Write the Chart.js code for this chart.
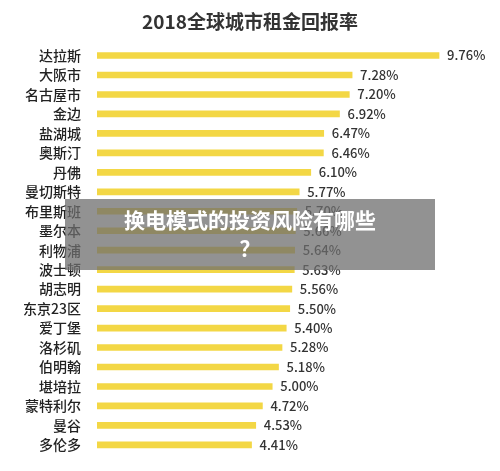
<!DOCTYPE html>
<html><head><meta charset="utf-8">
<script src="https://cdn.jsdelivr.net/npm/chart.js@4"></script>
<style>
body{margin:0;background:#fff;font-family:"Noto Sans CJK SC",sans-serif;}
#wrap{position:relative;width:500px;height:471px;}
#ov{position:absolute;left:65px;top:199px;width:370px;height:71px;background:rgba(110,110,110,0.75);color:#fff;font-weight:bold;font-size:21px;text-align:center;line-height:28px;padding-top:6px;box-sizing:border-box;}
</style></head><body>
<div id="wrap"><canvas id="c" width="500" height="471"></canvas>
<div id="ov">换电模式的投资风险有哪些<br>？</div></div>
<script>
const categories=["达拉斯","大阪市","名古屋市","金边","盐湖城","奥斯汀","丹佛","曼切斯特","布里斯班","墨尔本","利物浦","波士顿","胡志明","东京23区","爱丁堡","洛杉矶","伯明翰","堪培拉","蒙特利尔","曼谷","多伦多"];
const values=[9.76,7.28,7.20,6.92,6.47,6.46,6.10,5.77,5.70,5.66,5.64,5.63,5.56,5.50,5.40,5.28,5.18,5.00,4.72,4.53,4.41];
const title="2018全球城市租金回报率";
const lbl={id:'lbl',afterDatasetsDraw(ch){const c=ch.ctx;c.save();c.font='500 13px "Noto Sans CJK SC"';c.fillStyle='#333';c.textBaseline='middle';
ch.getDatasetMeta(0).data.forEach((b,i)=>{c.fillText(values[i].toFixed(2)+'%',b.x+8,b.y);});c.restore();}};
Chart.defaults.font.family='"Noto Sans CJK SC", sans-serif';
new Chart(document.getElementById('c'),{type:'bar',data:{labels:categories,datasets:[{data:values,backgroundColor:'#f3d745',barThickness:6}]},
options:{indexAxis:'y',responsive:false,animation:false,layout:{padding:{top:0,bottom:-7,right:0}},
plugins:{legend:{display:false},tooltip:{enabled:false},title:{display:true,text:title,color:'#333',font:{size:19,weight:'bold'},padding:{top:10,bottom:13}}},
scales:{x:{display:false,min:0,max:11.5},y:{grid:{display:false},border:{display:false},ticks:{color:'#222',font:{size:14,weight:'500'},padding:8},afterFit(s){s.width=97;}}}},plugins:[lbl]});
</script></body></html>
